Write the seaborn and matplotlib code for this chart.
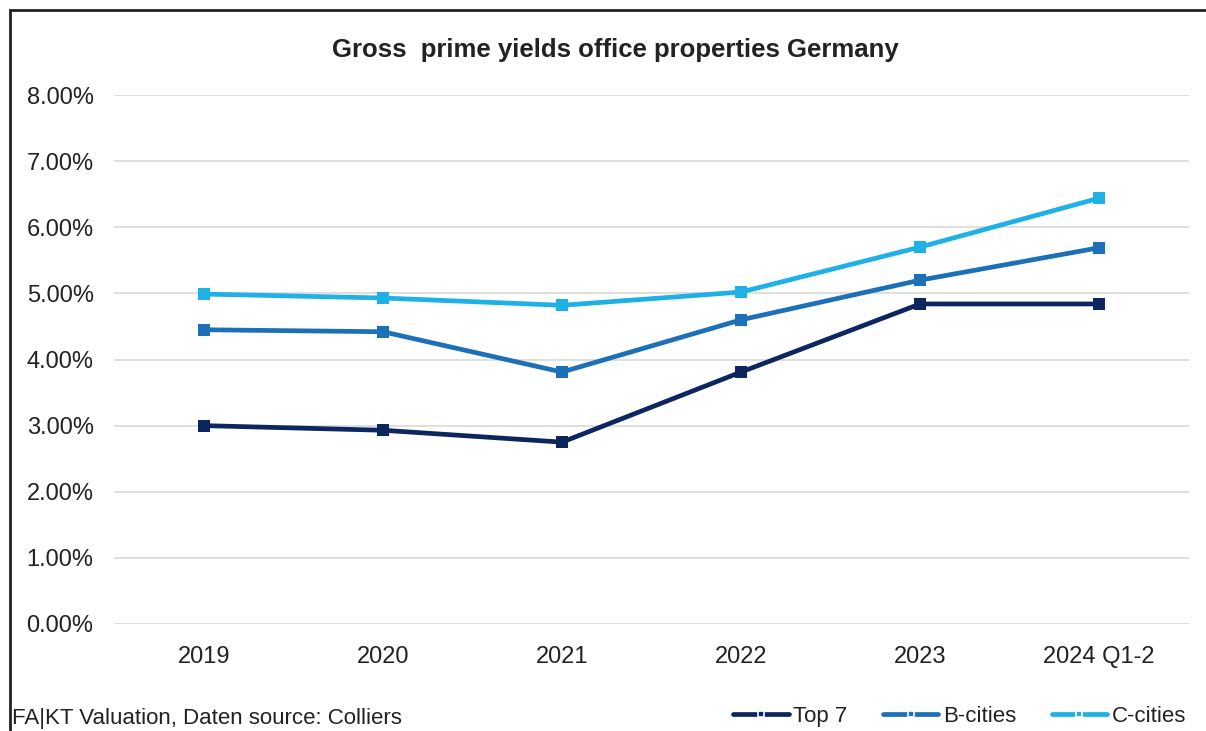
import pandas as pd
import matplotlib.pyplot as plt
import seaborn as sns
from matplotlib.patches import Rectangle
from matplotlib.ticker import PercentFormatter

# values (gross prime yields, %)
years = ['2019', '2020', '2021', '2022', '2023', '2024 Q1-2']
top7 = [3.00, 2.93, 2.75, 3.81, 4.84, 4.84]
b_cities = [4.45, 4.42, 3.81, 4.60, 5.20, 5.69]
c_cities = [4.99, 4.93, 4.82, 5.02, 5.70, 6.44]
series_names = ['Top 7', 'B-cities', 'C-cities']
colors = ['#0c2660', '#1c70b8', '#1eb1e6']

data = pd.DataFrame({
    'year': years * 3,
    'yield': top7 + b_cities + c_cities,
    'series': [s for s in series_names for _ in years],
})

sns.set_style('white')
plt.rcParams['font.family'] = ['Liberation Sans', 'DejaVu Sans']

fig = plt.figure(figsize=(12.06, 7.31), dpi=100)
ax = fig.add_axes([0.0949, 0.1464, 0.8906, 0.7236])

sns.lineplot(data=data, x='year', y='yield', hue='series', palette=colors,
             marker='s', markersize=8, markeredgewidth=0, linewidth=3.4,
             ax=ax, legend=False)

ax.set_xlim(-0.5, 5.5)
ax.set_ylim(0, 8)
ax.set_yticks(range(0, 9))
ax.yaxis.set_major_formatter(PercentFormatter(decimals=2))
ax.grid(axis='y', color='#d9d9d9', linewidth=1.2)
ax.set_axisbelow(True)
for sp in ax.spines.values():
    sp.set_visible(False)
ax.tick_params(axis='y', length=0, pad=15, labelsize=17, labelcolor='#222222')
ax.tick_params(axis='x', length=0, pad=16, labelsize=17, labelcolor='#222222')
ax.set_xlabel('')
ax.set_ylabel('')

fig.text(0.51, 0.931, 'Gross  prime yields office properties Germany',
         ha='center', va='center', fontsize=18.5, fontweight='bold', color='#222222')
fig.text(0.01, 0.017, 'FA|KT Valuation, Daten source: Colliers',
         ha='left', va='center', fontsize=16, color='#222222')

# legend handles: line with a small square marker, white rim gives the gaps
handles = [plt.Line2D([], [], color=c, linewidth=3.4, marker='s', markersize=5,
                      markeredgewidth=1.2, markeredgecolor='white') for c in colors]
fig.legend(handles, series_names, loc='lower right', bbox_to_anchor=(1.0, -0.022),
           ncol=3, frameon=False, fontsize=16, handlelength=2.5, handletextpad=0.2,
           columnspacing=1.6, labelcolor='#222222')

# outer frame (left and top edges visible in the reference)
fig.add_artist(Rectangle((0.0085, -0.05), 1.2, 1.036, transform=fig.transFigure,
                         fill=False, edgecolor='#222222', linewidth=2))

fig.savefig('out.png', dpi=100)
